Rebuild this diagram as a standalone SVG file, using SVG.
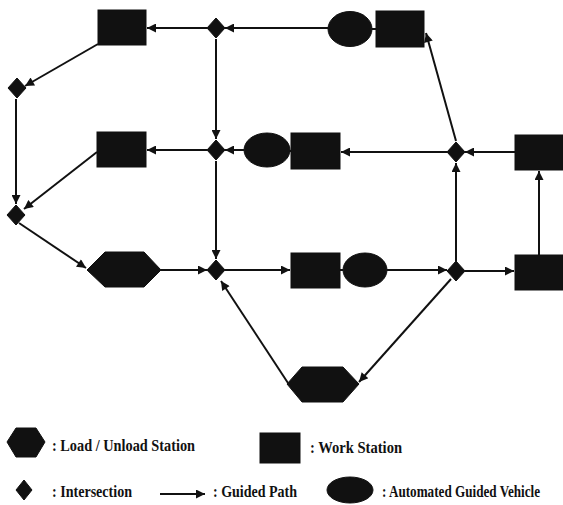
<svg xmlns="http://www.w3.org/2000/svg" width="563" height="505" viewBox="0 0 563 505">
<style>
.n{fill:#111;stroke:#111;stroke-width:1}
.e{stroke:#111;stroke-width:2;fill:none;marker-end:url(#ah)}
.p{stroke:#111;stroke-width:2;fill:none}
.t{font-family:"Liberation Serif","Times New Roman",serif;font-weight:bold;font-size:17px;fill:#111}
</style>
<defs>
<marker id="ah" viewBox="0 0 10 10" refX="10" refY="5" markerWidth="11" markerHeight="9" markerUnits="userSpaceOnUse" orient="auto"><path d="M0,0 L10,5 L0,10 z" fill="#111"/></marker>
</defs>
<rect width="563" height="505" fill="#fff"/>
<g id="connectors">
<line class="e" x1="328" y1="28" x2="225" y2="28"/>
<line class="e" x1="207" y1="28" x2="147" y2="28"/>
<line class="e" x1="98" y1="44" x2="25" y2="86"/>
<line class="e" x1="16" y1="99" x2="16" y2="204"/>
<line class="e" x1="216" y1="39" x2="216" y2="139"/>
<line class="e" x1="244" y1="150" x2="225" y2="150"/>
<line class="e" x1="207" y1="150" x2="147" y2="150"/>
<line class="e" x1="97" y1="152" x2="24" y2="209"/>
<line class="e" x1="19" y1="223" x2="86" y2="268"/>
<line class="e" x1="161" y1="270" x2="207" y2="270"/>
<line class="e" x1="216" y1="161" x2="216" y2="259"/>
<line class="e" x1="225" y1="270" x2="290" y2="270"/>
<line class="e" x1="387" y1="270" x2="447" y2="270"/>
<line class="e" x1="465" y1="271" x2="514" y2="271"/>
<line class="e" x1="539" y1="255" x2="539" y2="171"/>
<line class="e" x1="515" y1="152" x2="465" y2="152"/>
<line class="e" x1="447" y1="152" x2="341" y2="152"/>
<line class="e" x1="456" y1="261" x2="456" y2="163"/>
<line class="e" x1="456" y1="141" x2="426" y2="33"/>
<line class="e" x1="451" y1="279" x2="359" y2="382"/>
<line class="e" x1="288" y1="383" x2="221" y2="281"/>
<line class="p" x1="372" y1="29" x2="376" y2="29"/>
<line class="p" x1="289" y1="151" x2="292" y2="151"/>
<line class="p" x1="340" y1="270" x2="343" y2="270"/>
</g>
<g id="ws1"><rect class="n" x="98" y="10" width="48" height="35"/></g>
<g id="ws2"><rect class="n" x="97" y="132" width="49" height="35"/></g>
<g id="ws3"><rect class="n" x="376" y="11" width="48" height="36"/></g>
<g id="ws4"><rect class="n" x="291" y="133" width="49" height="36"/></g>
<g id="ws5"><rect class="n" x="515" y="135" width="48" height="35"/></g>
<g id="ws6"><rect class="n" x="291" y="253" width="49" height="35"/></g>
<g id="ws7"><rect class="n" x="515" y="255" width="48" height="35"/></g>
<g id="agv1"><ellipse class="n" cx="350" cy="29" rx="22" ry="17.5"/></g>
<g id="agv2"><ellipse class="n" cx="267" cy="150" rx="23" ry="17"/></g>
<g id="agv3"><ellipse class="n" cx="365" cy="270" rx="22" ry="17"/></g>
<g id="lu1"><polygon class="n" points="87,270 105,252 144,252 161,270 144,287 105,287"/></g>
<g id="lu2"><polygon class="n" points="287,384 302,367 343,367 359,384 343,402 302,402"/></g>
<g id="i1"><polygon class="n" points="216,18 225,28 216,38 207,28"/></g>
<g id="i2"><polygon class="n" points="17,78 26,88 17,98 8,88"/></g>
<g id="i3"><polygon class="n" points="16,205 25,215 16,225 7,215"/></g>
<g id="i4"><polygon class="n" points="216,140 225,150 216,160 207,150"/></g>
<g id="i5"><polygon class="n" points="216,260 225,270 216,280 207,270"/></g>
<g id="i6"><polygon class="n" points="456,142 465,152 456,162 447,152"/></g>
<g id="i7"><polygon class="n" points="456,261 465,271 456,281 447,271"/></g>
<g id="legend">
<polygon class="n" points="7,442 16,428 36,428 45,442 36,457 16,457"/>
<text class="t" transform="translate(52,451) scale(0.75,1)" textLength="190.7" lengthAdjust="spacingAndGlyphs">: Load / Unload Station</text>
<rect class="n" x="260" y="433" width="40" height="30"/>
<text class="t" transform="translate(310,453) scale(0.75,1)" textLength="122.7" lengthAdjust="spacingAndGlyphs">: Work Station</text>
<polygon class="n" points="24,480 32,490 24,500 16,490"/>
<text class="t" transform="translate(52,497) scale(0.75,1)" textLength="106.7" lengthAdjust="spacingAndGlyphs">: Intersection</text>
<line class="e" x1="160" y1="494" x2="205" y2="494"/>
<text class="t" transform="translate(213,497) scale(0.75,1)" textLength="112" lengthAdjust="spacingAndGlyphs">: Guided Path</text>
<ellipse class="n" cx="350" cy="490" rx="23" ry="13"/>
<text class="t" transform="translate(382,497) scale(0.75,1)" textLength="210.7" lengthAdjust="spacingAndGlyphs">: Automated Guided Vehicle</text>
</g>
</svg>
